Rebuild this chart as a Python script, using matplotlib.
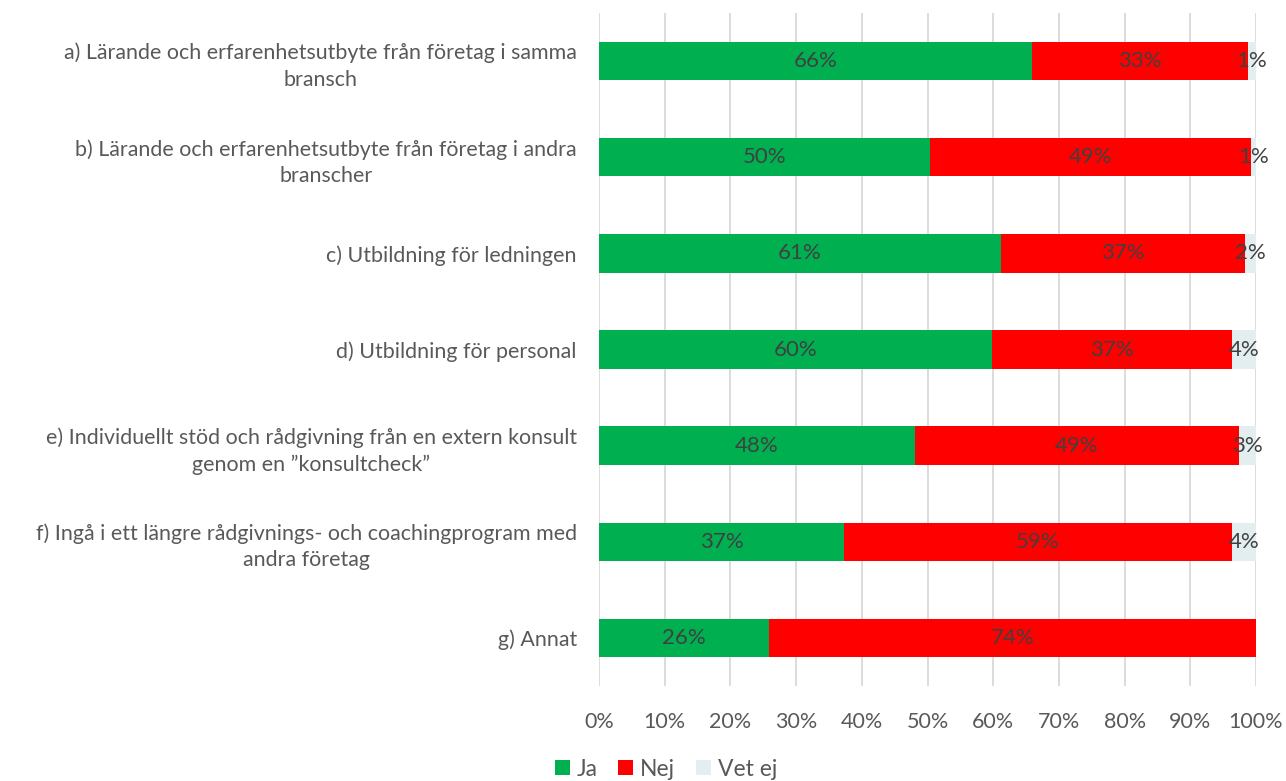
import matplotlib
matplotlib.use("Agg")
import matplotlib.pyplot as plt
from matplotlib.ticker import PercentFormatter
from matplotlib.patches import Patch

categories = [
    "a) Lärande och erfarenhetsutbyte från företag i samma\nbransch",
    "b) Lärande och erfarenhetsutbyte från företag i andra\nbranscher",
    "c) Utbildning för ledningen",
    "d) Utbildning för personal",
    "e) Individuellt stöd och rådgivning från en extern konsult\ngenom en ”konsultcheck”",
    "f) Ingå i ett längre rådgivnings- och coachingprogram med\nandra företag",
    "g) Annat",
]
ja = [65.9, 50.4, 61.2, 59.8, 48.1, 37.3, 25.9]
nej = [32.9, 48.8, 37.1, 36.6, 49.3, 59.0, 74.1]
vet_ej = [1.2, 0.8, 1.7, 3.6, 2.6, 3.7, 0.0]
series_names = ["Ja", "Nej", "Vet ej"]
colors = ["#00B050", "#FF0000", "#E3EEF0"]
xticks = list(range(0, 101, 10))

plt.rcParams['font.family'] = ['Lato', 'DejaVu Sans']

fig = plt.figure(figsize=(12.86, 7.81), dpi=100)
ax = fig.add_axes([599/1286, 1-686/781, (1256-599)/1286, (686-13)/781])

y = list(range(len(categories)))
left = [0]*len(categories)
for vals, name, col in zip([ja, nej, vet_ej], series_names, colors):
    ax.barh(y, vals, left=left, height=0.4, color=col, label=name, zorder=3)
    for yi, l, v in zip(y, left, vals):
        if v > 0.3:
            ax.text(l + v/2, yi, f"{round(v):.0f}%", ha='center', va='center',
                    fontsize=16, color='#404040', zorder=4)
    left = [a+b for a, b in zip(left, vals)]

ax.set_ylim(len(categories)-0.5, -0.5)
ax.set_xlim(0, 100)
ax.set_yticks(y)
ax.set_yticklabels(categories, fontsize=15.4, color='#595959', multialignment='center',
                   linespacing=1.4)
ax.set_xticks(xticks)
ax.xaxis.set_major_formatter(PercentFormatter(decimals=0))
ax.tick_params(axis='x', labelsize=15.5, labelcolor='#595959', length=0, pad=19)
ax.tick_params(axis='y', length=0, pad=16)
ax.grid(axis='x', color='#D9D9D9', linewidth=1.3, zorder=0)
for s in ax.spines.values():
    s.set_visible(False)

handles = [Patch(facecolor=c, label=n) for c, n in zip(colors, series_names)]
fig.legend(handles=handles, loc='center', bbox_to_anchor=(666/1286, 1-769/781),
           ncol=3, frameon=False, fontsize=16.5, labelcolor='#595959',
           handlelength=0.65, handleheight=0.65, handletextpad=0.3, columnspacing=0.9)

fig.savefig("out.png", dpi=100)
